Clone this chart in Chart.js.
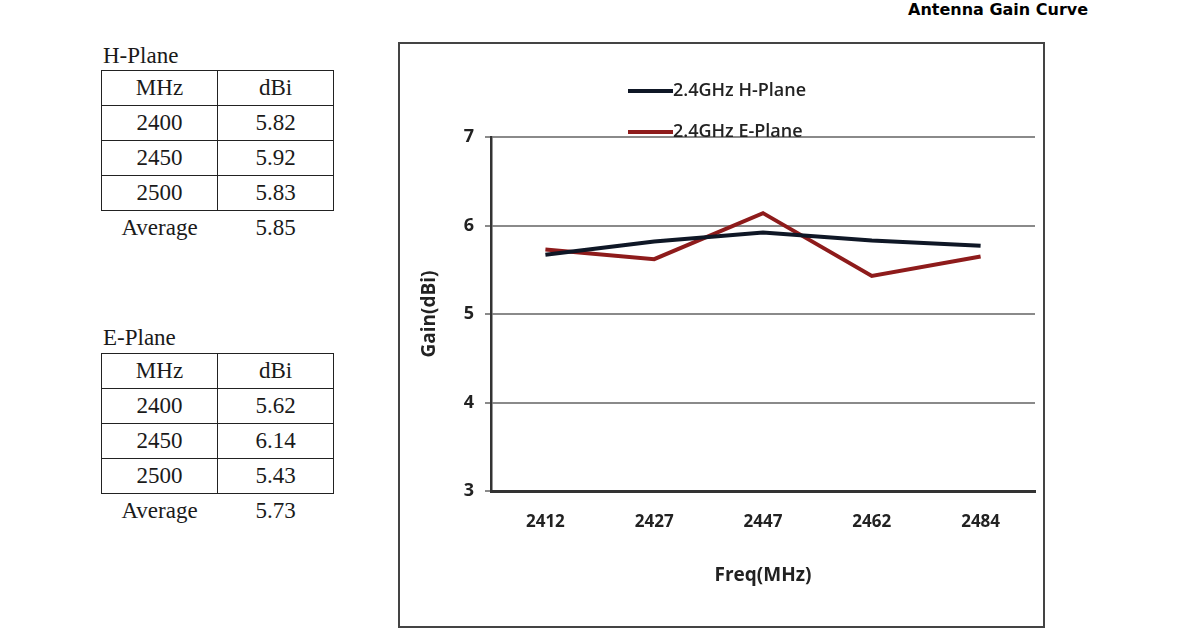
<!DOCTYPE html>
<html>
<head>
<meta charset="utf-8">
<script src="https://cdn.jsdelivr.net/npm/chart.js@4"></script>
<style>
  html, body { margin: 0; padding: 0; background: #fff; }
  body { width: 1200px; height: 630px; position: relative; overflow: hidden; }
  #title { position: absolute; left: 908px; top: 0px; font: bold 16px "DejaVu Sans", sans-serif; color: #000; letter-spacing: 0px; }
  .tcap { position: absolute; font: 23px "Liberation Serif", serif; color: #1a1a1a; }
  table.gt { position: absolute; border-collapse: collapse; font: 23px "Liberation Serif", serif; color: #1a1a1a; }
  table.gt td { border: 1.5px solid #222; width: 115px; height: 34px; padding: 0; text-align: center; line-height: 34px; }
  table.gt tr.avg td { border: none; }
  #box { position: absolute; left: 398px; top: 42px; width: 643px; height: 582px; border: 2px solid #444; }
  #box canvas { position: absolute; left: 0; top: 0; }
</style>
</head>
<body>
<div id="title">Antenna Gain Curve</div>

<div class="tcap" style="left:103px; top:43px;">H-Plane</div>
<table class="gt" id="hTable" style="left:101px; top:70px;"></table>

<div class="tcap" style="left:103px; top:325px;">E-Plane</div>
<table class="gt" id="eTable" style="left:101px; top:353px;"></table>

<div id="box"><canvas id="c" width="643" height="582"></canvas></div>

<script>
// ---- data ----
const freqLabels = ['2412', '2427', '2447', '2462', '2484'];
const hPlaneGain = [5.67, 5.82, 5.92, 5.83, 5.77];
const ePlaneGain = [5.73, 5.62, 6.14, 5.43, 5.65];
const seriesNames = ['2.4GHz H-Plane', '2.4GHz E-Plane'];
const yTicks = [3, 4, 5, 6, 7];

const tableFreqs = ['2400', '2450', '2500'];
const hTableGain = ['5.82', '5.92', '5.83'];
const hTableAvg = '5.85';
const eTableGain = ['5.62', '6.14', '5.43'];
const eTableAvg = '5.73';

// ---- tables ----
function fillTable(id, vals, avg) {
  const t = document.getElementById(id);
  let html = '<tr><td>MHz</td><td>dBi</td></tr>';
  tableFreqs.forEach((f, i) => { html += '<tr><td>' + f + '</td><td>' + vals[i] + '</td></tr>'; });
  html += '<tr class="avg"><td>Average</td><td>' + avg + '</td></tr>';
  t.innerHTML = html;
}
fillTable('hTable', hTableGain, hTableAvg);
fillTable('eTable', eTableGain, eTableAvg);

// ---- chart ----
const legendPlugin = {
  id: 'stackLegend',
  afterDraw(chart) {
    const ctx = chart.ctx;
    chart.data.datasets.forEach((ds, i) => {
      const y = 47 + i * 41;
      ctx.save();
      ctx.strokeStyle = ds.borderColor;
      ctx.lineWidth = 4;
      ctx.beginPath(); ctx.moveTo(228, y); ctx.lineTo(273, y); ctx.stroke();
      ctx.fillStyle = '#222';
      ctx.font = '600 18px "Open Sans", sans-serif';
      ctx.textBaseline = 'middle';
      ctx.fillText(ds.label, 273, y);
      ctx.restore();
    });
  }
};

new Chart(document.getElementById('c'), {
  type: 'line',
  data: {
    labels: freqLabels,
    datasets: [
      { label: seriesNames[0], data: hPlaneGain, borderColor: '#0f1726', borderWidth: 4, pointRadius: 0, tension: 0, fill: false },
      { label: seriesNames[1], data: ePlaneGain, borderColor: '#8e1b1b', borderWidth: 4, pointRadius: 0, tension: 0, fill: false }
    ]
  },
  options: {
    responsive: false,
    devicePixelRatio: 1,
    animation: false,
    layout: { padding: { top: 93, right: 8, left: 0, bottom: 0 } },
    plugins: { legend: { display: false }, tooltip: { enabled: false }, title: { display: false } },
    scales: {
      x: {
        offset: true,
        grid: { display: false, drawTicks: false },
        border: { display: true, color: '#333', width: 3 },
        ticks: { padding: 21, color: '#222', font: { family: '"Open Sans", sans-serif', size: 17, weight: 'bold' } },
        title: { display: true, text: 'Freq(MHz)', color: '#222', font: { family: '"Open Sans", sans-serif', size: 19, weight: 'bold' }, padding: { top: 0, bottom: 39 } },
        afterFit(s) { s.height = 135; }
      },
      y: {
        min: 3, max: 7,
        afterBuildTicks(s) { s.ticks = yTicks.map(v => ({ value: v })); },
        grid: { color: '#8a8a8a', lineWidth: 2, drawTicks: true, tickLength: 6 },
        border: { display: true, color: '#333', width: 2.5 },
        ticks: { padding: 11, color: '#222', font: { family: '"Open Sans", sans-serif', size: 18, weight: 'bold' } },
        title: { display: true, text: 'Gain(dBi)', color: '#222', font: { family: '"Open Sans", sans-serif', size: 19, weight: 'bold' }, padding: { top: 18, bottom: 0 } },
        afterFit(s) { s.width = 91; }
      }
    }
  },
  plugins: [legendPlugin]
});
</script>
</body>
</html>
